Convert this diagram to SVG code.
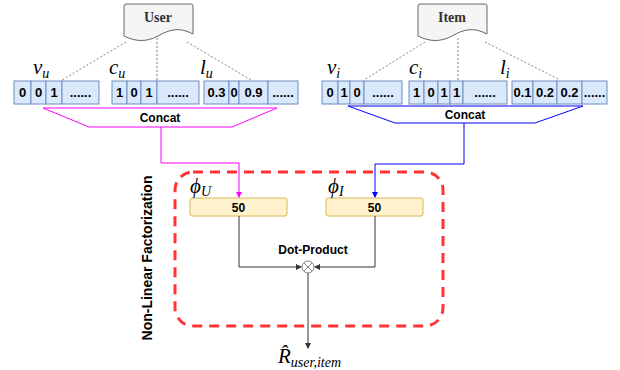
<svg xmlns="http://www.w3.org/2000/svg" width="620" height="370" viewBox="0 0 620 370">
<defs>
<style>
.cell{fill:#dae8fc;stroke:#6c8ebf;stroke-width:1}
.num{font-family:"Liberation Sans",Arial,sans-serif;font-weight:bold;font-size:13px;fill:#000;text-anchor:middle}
.doc{fill:#f5f5f5;stroke:#666;stroke-width:1}
.doct{font-family:"Liberation Serif","Times New Roman",serif;font-weight:bold;font-size:14px;fill:#333;text-anchor:middle}
.dot{stroke:#666;stroke-width:0.8;stroke-dasharray:2,2;fill:none}
.math{font-family:"Liberation Serif","Times New Roman",serif;font-style:italic;font-size:21px;fill:#000}
.sub{font-size:14px}
.lbl{font-family:"Liberation Sans",Arial,sans-serif;font-weight:bold;font-size:12px;fill:#000;text-anchor:middle}
.emb{fill:#fff2cc;stroke:#d6b656;stroke-width:1}
.wire{stroke:#333;stroke-width:1;fill:none}
</style>
<marker id="am" markerWidth="6" markerHeight="6" refX="5" refY="3" orient="auto" markerUnits="userSpaceOnUse"><path d="M0,0 L6,3 L0,6 Z" fill="#ff00ff"/></marker>
<marker id="ab" markerWidth="6" markerHeight="6" refX="5" refY="3" orient="auto" markerUnits="userSpaceOnUse"><path d="M0,0 L6,3 L0,6 Z" fill="#0000ff"/></marker>
<marker id="ak" markerWidth="6" markerHeight="6" refX="5" refY="3" orient="auto" markerUnits="userSpaceOnUse"><path d="M0,0 L6,3 L0,6 Z" fill="#333"/></marker>
</defs>

<g id="user">
<path class="doc" d="M126,4 H191 Q193,4 193,6 V34 C180,27 170,29 158,36 C147,42 136,42 124,36 V6 Q124,4 126,4 Z"/>
<text class="doct" x="158" y="22">User</text>
</g>
<g id="item">
<path class="doc" d="M420,4 H485 Q487,4 487,6 V34 C474,27 464,29 452,36 C441,42 430,42 418,36 V6 Q418,4 420,4 Z"/>
<text class="doct" x="452" y="22">Item</text>
</g>

<g id="vu">
<rect class="cell" x="14" y="81" width="17" height="23"/><rect class="cell" x="31" y="81" width="15" height="23"/><rect class="cell" x="46" y="81" width="16" height="23"/><rect class="cell" x="62" y="81" width="37" height="23"/>
<text class="num" x="22.5" y="97">0</text><text class="num" x="38.5" y="97">0</text><text class="num" x="54" y="97">1</text><text class="num" x="80.5" y="97">......</text>
<text class="math" x="33" y="74">v<tspan class="sub" dy="4">u</tspan></text>
</g>
<g id="cu">
<rect class="cell" x="112" y="81" width="15" height="23"/><rect class="cell" x="127" y="81" width="14" height="23"/><rect class="cell" x="141" y="81" width="16" height="23"/><rect class="cell" x="157" y="81" width="42" height="23"/>
<text class="num" x="119.5" y="97">1</text><text class="num" x="134" y="97">0</text><text class="num" x="149" y="97">1</text><text class="num" x="178" y="97">......</text>
<text class="math" x="109" y="74">c<tspan class="sub" dy="4">u</tspan></text>
</g>
<g id="lu">
<rect class="cell" x="204" y="81" width="25" height="23"/><rect class="cell" x="229" y="81" width="10" height="23"/><rect class="cell" x="239" y="81" width="29" height="23"/><rect class="cell" x="268" y="81" width="30" height="23"/>
<text class="num" x="216.5" y="97">0.3</text><text class="num" x="234" y="97">0</text><text class="num" x="253.5" y="97">0.9</text><text class="num" x="283" y="97">......</text>
<text class="math" x="200" y="74">l<tspan class="sub" dy="4">u</tspan></text>
</g>

<g id="vi">
<rect class="cell" x="322" y="81" width="16" height="23"/><rect class="cell" x="338" y="81" width="12" height="23"/><rect class="cell" x="350" y="81" width="14" height="23"/><rect class="cell" x="364" y="81" width="38" height="23"/>
<text class="num" x="330" y="97">0</text><text class="num" x="344" y="97">1</text><text class="num" x="357" y="97">0</text><text class="num" x="383" y="97">......</text>
<text class="math" x="327" y="74">v<tspan class="sub" dy="4">i</tspan></text>
</g>
<g id="ci">
<rect class="cell" x="409" y="81" width="15" height="23"/><rect class="cell" x="424" y="81" width="14" height="23"/><rect class="cell" x="438" y="81" width="12" height="23"/><rect class="cell" x="450" y="81" width="13" height="23"/><rect class="cell" x="463" y="81" width="44" height="23"/>
<text class="num" x="416.5" y="97">1</text><text class="num" x="431" y="97">0</text><text class="num" x="444" y="97">1</text><text class="num" x="456.5" y="97">1</text><text class="num" x="485" y="97">......</text>
<text class="math" x="409" y="74">c<tspan class="sub" dy="4">i</tspan></text>
</g>
<g id="li">
<rect class="cell" x="512" y="81" width="21" height="23"/><rect class="cell" x="533" y="81" width="24" height="23"/><rect class="cell" x="557" y="81" width="25" height="23"/><rect class="cell" x="582" y="81" width="25" height="23"/>
<text class="num" x="522.5" y="97">0.1</text><text class="num" x="545" y="97">0.2</text><text class="num" x="569.5" y="97">0.2</text><text class="num" x="594.5" y="97">......</text>
<text class="math" x="500" y="74">l<tspan class="sub" dy="4">i</tspan></text>
</g>

<g id="concat-u">
<path d="M43,108 H277 L232,127 H89 Z" fill="#fff" stroke="#ff00ff" stroke-width="1"/>
<text class="lbl" x="160" y="122">Concat</text>
</g>
<g id="concat-i">
<path d="M348,106 H583 L535,123 H395 Z" fill="#fff" stroke="#0000ff" stroke-width="1"/>
<text class="lbl" x="465" y="119">Concat</text>
</g>

<g id="nlf">
<rect x="175" y="172" width="268" height="154" rx="18" fill="none" stroke="#ff3333" stroke-width="3" stroke-dasharray="10,7"/>
<text font-family="'Liberation Sans',Arial,sans-serif" font-weight="bold" font-size="14" text-anchor="middle" transform="translate(152,258) rotate(-90)">Non-Linear Factorization</text>
</g>
<g id="phiU">
<rect class="emb" x="190" y="198" width="97" height="18" rx="2"/>
<text class="lbl" x="238.5" y="212" font-size="14">50</text>
<text class="math" x="190" y="193">ϕ<tspan class="sub" dy="3">U</tspan></text>
</g>
<g id="phiI">
<rect class="emb" x="326" y="198" width="97" height="18" rx="2"/>
<text class="lbl" x="374.5" y="212" font-size="14">50</text>
<text class="math" x="328" y="193">ϕ<tspan class="sub" dy="3">I</tspan></text>
</g>
<g id="dot">
<circle cx="308" cy="267" r="6" fill="#fff" stroke="#666" stroke-width="0.8"/>
<path d="M304,263 L312,271 M312,263 L304,271" stroke="#666" stroke-width="0.8"/>
<text class="lbl" x="313" y="254">Dot-Product</text>
</g>
<g id="rhat">
<text class="math" x="278" y="363" font-size="19">R̂<tspan class="sub" dy="4">user,item</tspan></text>
</g>

<g id="connectors">
<path class="dot" d="M126,42 L62,80 M157,38 V81 M187,42 L251,80"/>
<path class="dot" d="M425,42 L364,80 M458,38 V81 M485,42 L560,80"/>
<path d="M161,127 V163 H239 V197" fill="none" stroke="#ff00ff" stroke-width="1" marker-end="url(#am)"/>
<path d="M464,123 V164 H375 V197" fill="none" stroke="#0000ff" stroke-width="1" marker-end="url(#ab)"/>
<path class="wire" d="M239,216 V267 H301" marker-end="url(#ak)"/>
<path class="wire" d="M375,216 V267 H315" marker-end="url(#ak)"/>
<path class="wire" d="M308,273 V348" marker-end="url(#ak)"/>
</g>
</svg>
